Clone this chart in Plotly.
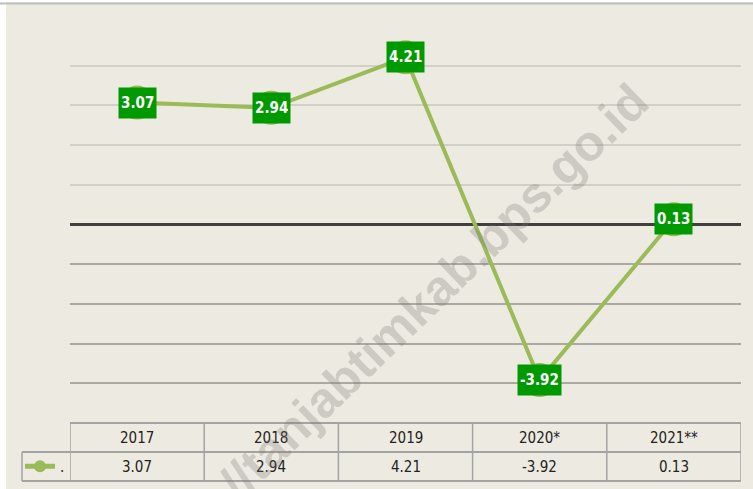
import plotly.graph_objects as go

years = ["2017", "2018", "2019", "2020*", "2021**"]
values = [3.07, 2.94, 4.21, -3.92, 0.13]
value_labels = ["3.07", "2.94", "4.21", "-3.92", "0.13"]
series_name = "."
watermark = "//tanjabtimkab.bps.go.id"

W, H = 753, 489
BG = "#EDEBE1"
LINE = "#9BBB59"
LABEL_BG = "#009900"
TBL = "#A3A3A3"
FONT = "Liberation Sans Narrow, DejaVu Sans Condensed, Arial Narrow, sans-serif"

def py(px):
    return 1 - px / H

def pxx(px):
    return px / W

fig = go.Figure()
fig.add_trace(go.Scatter(
    x=years, y=values, name=series_name, mode="lines+markers",
    line=dict(color=LINE, width=4),
    marker=dict(color=LINE, size=34),
    hoverinfo="skip", showlegend=True,
))

shapes = []
annotations = []

# page strips
shapes.append(dict(type="rect", xref="paper", yref="paper", x0=0, x1=pxx(6), y0=0, y1=1,
                   fillcolor="white", line=dict(width=0), layer="below"))
shapes.append(dict(type="rect", xref="paper", yref="paper", x0=0, x1=1, y0=py(2), y1=1,
                   fillcolor="white", line=dict(width=0), layer="below"))
shapes.append(dict(type="line", xref="paper", yref="paper", x0=0, x1=1, y0=py(3.5), y1=py(3.5),
                   line=dict(color="#BDBDBD", width=2), layer="below"))

# table grid
t_top, t_mid, t_bot = py(423), py(452), py(481)
x_left = pxx(22)
shapes.append(dict(type="line", xref="x", yref="paper", x0=-0.5, x1=len(years) - 0.5, y0=t_top, y1=t_top,
                   line=dict(color=TBL, width=2)))
for yy in (t_mid, t_bot):
    shapes.append(dict(type="line", xref="paper", yref="paper", x0=x_left, x1=pxx(741), y0=yy, y1=yy,
                       line=dict(color=TBL, width=2)))
for i in range(len(years) + 1):
    shapes.append(dict(type="line", xref="x", yref="paper", x0=i - 0.5, x1=i - 0.5, y0=t_bot, y1=t_top,
                       line=dict(color=TBL, width=1.5)))
shapes.append(dict(type="line", xref="paper", yref="paper", x0=x_left, x1=x_left, y0=t_bot, y1=t_mid,
                   line=dict(color=TBL, width=1.5)))

for i, (yr, lab) in enumerate(zip(years, value_labels)):
    annotations.append(dict(x=i, xref="x", y=py(437.5), yref="paper", text=yr, showarrow=False,
                            xanchor="center", yanchor="middle",
                            font=dict(family=FONT, size=15, color="#222222")))
    annotations.append(dict(x=i, xref="x", y=py(466.5), yref="paper", text=lab, showarrow=False,
                            xanchor="center", yanchor="middle",
                            font=dict(family=FONT, size=15, color="#222222")))

# data labels
for i, (v, lab) in enumerate(zip(values, value_labels)):
    annotations.append(dict(x=i, y=v, xref="x", yref="y", text="<b>%s</b>" % lab, showarrow=False,
                            xanchor="center", yanchor="middle",
                            bgcolor=LABEL_BG, borderpad=2, height=26,
                            font=dict(family=FONT, size=15, color="white")))

# watermark
annotations.append(dict(x=pxx(434), y=py(292), xref="paper", yref="paper", text="<b>%s</b>" % watermark,
                        showarrow=False, textangle=-44, xanchor="center", yanchor="middle",
                        font=dict(family="Liberation Sans, Arial, sans-serif", size=50,
                                  color="rgba(120,120,115,0.28)")))

fig.update_layout(
    width=W, height=H, margin=dict(l=0, r=0, t=0, b=0),
    paper_bgcolor=BG, plot_bgcolor="rgba(0,0,0,0)",
    xaxis=dict(domain=[pxx(70), pxx(741)], type="category", categoryorder="array",
               categoryarray=years, range=[-0.5, len(years) - 0.5], showgrid=False, showticklabels=False,
               zeroline=False, showline=False, ticks=""),
    yaxis=dict(domain=[py(423), py(26)], range=[-5, 5], tickvals=[1, 2, 3, 4, 5],
               showticklabels=False, gridcolor="#D2CFC7", gridwidth=2,
               zeroline=True, zerolinecolor="#404040", zerolinewidth=3, showline=False, ticks=""),
    yaxis2=dict(domain=[py(423), py(26)], range=[-5, 5], overlaying="y", tickvals=[-4, -3, -2, -1],
                showticklabels=False, gridcolor="#ABA9A2", gridwidth=2, zeroline=False, showline=False),
    shapes=shapes, annotations=annotations,
    showlegend=True,
    legend=dict(x=pxx(20), y=py(466.5), xanchor="left", yanchor="middle", bgcolor="rgba(0,0,0,0)",
                font=dict(family=FONT, size=15, color="#222222"), itemsizing="constant",
                itemwidth=30, borderwidth=0),
    hovermode=False,
)
# dummy trace to activate yaxis2 grid
fig.add_trace(go.Scatter(x=[years[0]], y=[None], yaxis="y2", showlegend=False, hoverinfo="skip"))

fig.write_html("out.html", config={"displayModeBar": False},
               post_script="document.body.style.margin='0';document.body.style.overflow='hidden';")
